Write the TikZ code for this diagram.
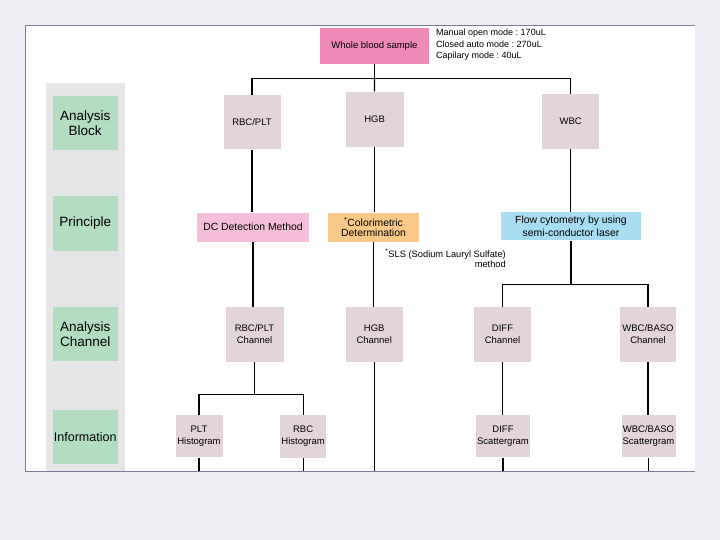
\documentclass[tikz,border=0pt]{standalone}
\usepackage{fontspec}
\setmainfont{Liberation Sans}
\frenchspacing
\definecolor{bgcol}{HTML}{EEEDF3}
\definecolor{framecol}{HTML}{7F7A96}
\definecolor{colgray}{HTML}{E6E6E9}
\definecolor{lblgreen}{HTML}{B2DDC0}
\definecolor{boxmauve}{HTML}{E3D4DB}
\definecolor{wbpink}{HTML}{EF8AB8}
\definecolor{dcpink}{HTML}{F5BED8}
\definecolor{corange}{HTML}{FBC987}
\definecolor{fblue}{HTML}{A8DCF2}
\begin{document}
\begin{tikzpicture}[x=1bp,y=-1bp,
  lbl/.style={fill=lblgreen, minimum width=64.7bp, minimum height=54bp, inner sep=0pt, align=center, font=\fontsize{13.5bp}{15bp}\selectfont},
  blk/.style={fill=boxmauve, inner sep=0pt, align=center, font=\fontsize{9.5bp}{12bp}\selectfont},
  prin/.style={inner sep=0pt, align=center, font=\fontsize{10.4bp}{12.5bp}\selectfont},
  conn/.style={line width=1.2bp, black},
  note/.style={inner sep=0pt, font=\fontsize{9bp}{11.4bp}\selectfont}]
\useasboundingbox (0,0) rectangle (720,540);
\fill[bgcol] (0,0) rectangle (720,540);
\fill[white] (25,26) rectangle (694.5,471);
\fill[colgray] (46,82.6) rectangle (125.3,471);
\draw[framecol, line width=1bp] (694.5,26) -- (25,26) -- (25,471) -- (694.5,471);

% row labels
\node[lbl] (lb1) at (85.2,123.3) {Analysis\\Block};
\node[lbl] (lb2) at (85.2,223.5) {Principle};
\node[lbl] (lb3) at (85.2,333.7) {Analysis\\Channel};
\node[lbl, font=\fontsize{12.5bp}{15bp}\selectfont] (lb4) at (85.2,436.7) {Information};

% top
\node[blk, fill=wbpink, minimum width=109bp, minimum height=35.5bp] (whole) at (374.4,46) {Whole blood sample};
\node[note, anchor=west, align=left] (modes) at (436,44.8) {Manual open mode : 170uL\\Closed auto mode : 270uL\\Capilary mode : 40uL};

% analysis block
\node[blk, minimum width=57bp, minimum height=54.4bp] (rbcplt) at (252,122.2) {RBC/PLT};
\node[blk, minimum width=58bp, minimum height=55bp] (hgb) at (374.6,119.2) {HGB};
\node[blk, minimum width=57bp, minimum height=54.4bp] (wbc) at (570.7,121.6) {WBC};

% principle
\node[prin, fill=dcpink, minimum width=112.5bp, minimum height=29bp] (dc) at (253,227.2) {DC Detection Method};
\node[prin, fill=corange, minimum width=91.4bp, minimum height=29bp, font=\fontsize{10.4bp}{10.5bp}\selectfont] (colo) at (373.5,227.2) {\textsuperscript{*}Colorimetric\\Determination};
\node[prin, fill=fblue, minimum width=140bp, minimum height=28bp] (flow) at (571,226.5) {Flow cytometry by using\\semi-conductor laser};
\node[note, anchor=north east, align=right, font=\fontsize{9.3bp}{10.2bp}\selectfont] (sls) at (506,249) {\textsuperscript{*}SLS (Sodium Lauryl Sulfate)\\method};

% analysis channel
\node[blk, minimum width=58bp, minimum height=54.4bp] (chrbc) at (254.5,334.4) {RBC/PLT\\Channel};
\node[blk, minimum width=57bp, minimum height=54.6bp] (chhgb) at (374.2,334.3) {HGB\\Channel};
\node[blk, minimum width=57bp, minimum height=54.4bp] (chdiff) at (502.5,334.5) {DIFF\\Channel};
\node[blk, minimum width=56.3bp, minimum height=54.4bp] (chwb) at (648,334.5) {WBC/BASO\\Channel};

% information
\node[blk, minimum width=47bp, minimum height=42.6bp] (plt) at (199,436) {PLT\\Histogram};
\node[blk, minimum width=46.2bp, minimum height=42.6bp] (rbch) at (303.1,436.3) {RBC\\Histogram};
\node[blk, minimum width=54.4bp, minimum height=42.6bp] (diffs) at (503,436) {DIFF\\Scattergram};
\node[blk, minimum width=54bp, minimum height=42.6bp] (wbs) at (648.5,436) {WBC/BASO\\Scattergram};

% connectors
\coordinate (bar) at (374.4,78.5);
\coordinate (s1) at (254.5,394.3);
\coordinate (s2) at (571,284.5);
\coordinate (pb) at (0,471);
\draw[conn] (whole.south) -- (bar);
\draw[conn] (rbcplt.north) |- (bar) -| (wbc.north);
\draw[conn] (bar) -- (hgb.north);
\draw[conn] (rbcplt.south) -- (rbcplt.south |- dc.north);
\draw[conn] (hgb.south) -- (hgb.south |- colo.north);
\draw[conn] (wbc.south) -- (wbc.south |- flow.north);
\draw[conn] (dc.south) -- (dc.south |- chrbc.north);
\draw[conn] (colo.south) -- (colo.south |- chhgb.north);
\draw[conn] (flow.south) -- (s2);
\draw[conn] (chdiff.north) |- (s2) -| (chwb.north);
\draw[conn] (chrbc.south) -- (s1);
\draw[conn] (plt.north) |- (s1) -| (rbch.north);
\draw[conn] (chdiff.south) -- (chdiff.south |- diffs.north);
\draw[conn] (chwb.south) -- (chwb.south |- wbs.north);
\draw[conn] (chhgb.south) -- (chhgb.south |- pb);
\draw[conn] (plt.south) -- (plt.south |- pb);
\draw[conn] (rbch.south) -- (rbch.south |- pb);
\draw[conn] (diffs.south) -- (diffs.south |- pb);
\draw[conn] (wbs.south) -- (wbs.south |- pb);
\end{tikzpicture}
\end{document}
